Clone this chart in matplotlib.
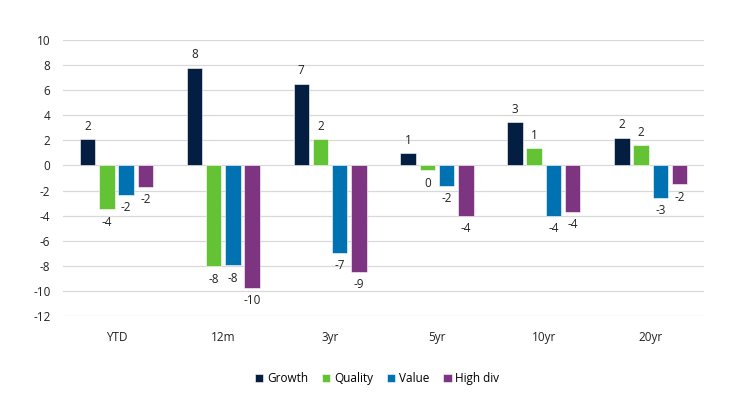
import numpy as np
import matplotlib.pyplot as plt

plt.rcParams['font.family'] = ['Open Sans', 'DejaVu Sans']
plt.rcParams['axes.unicode_minus'] = False

periods = ['YTD', '12m', '3yr', '5yr', '10yr', '20yr']
growth = [2.12, 7.8, 6.53, 0.98, 3.45, 2.22]
quality = [-3.5, -8.05, 2.07, -0.4, 1.38, 1.59]
value = [-2.34, -7.97, -6.94, -1.6, -4.01, -2.58]
high_div = [-1.7, -9.73, -8.5, -3.99, -3.72, -1.5]

series = [
    ('Growth', growth, '#041E42'),
    ('Quality', quality, '#64C334'),
    ('Value', value, '#0072B1'),
    ('High div', high_div, '#7D3582'),
]


def fmt(v):
    # round half away from zero, like the spreadsheet number format
    r = int(np.sign(v) * np.floor(abs(v) + 0.5))
    return '%d' % r


fig = plt.figure(figsize=(7.31, 4.08), dpi=100)
ax = fig.add_axes([0.0862, 0.2255, 0.877, 0.6765])

x = np.arange(len(periods))
pitch = 0.18
width = 0.145
fs = 8.5
for i, (name, vals, col) in enumerate(series):
    pos = x + (i - 1.5) * pitch
    ax.bar(pos, vals, width, color=col, label=name, edgecolor='white',
           linewidth=0.4, zorder=3)
    for p, v in zip(pos, vals):
        if v >= 0:
            ax.text(p, v + 0.5, fmt(v), ha='center', va='bottom',
                    fontsize=fs, color='#222222')
        else:
            ax.text(p, v - 0.5, fmt(v), ha='center', va='top',
                    fontsize=fs, color='#222222')

ax.set_xlim(-0.5, len(periods) - 0.5)
ax.set_ylim(-12, 10)
ax.set_yticks(range(-12, 11, 2))
ax.set_xticks(x)
ax.set_xticklabels(periods)
ax.tick_params(axis='both', length=0, labelsize=fs, colors='#222222')
ax.tick_params(axis='x', pad=11)
ax.tick_params(axis='y', pad=9)
ax.grid(axis='y', color='#D9D9D9', linewidth=0.9, zorder=0)
for s in ax.spines.values():
    s.set_visible(False)

ax.legend(loc='upper center', bbox_to_anchor=(0.49, -0.165), ncol=4,
          frameon=False, fontsize=fs, handlelength=0.7, handleheight=0.7,
          handletextpad=0.3, columnspacing=1.2)

fig.savefig('out.png', dpi=100)
